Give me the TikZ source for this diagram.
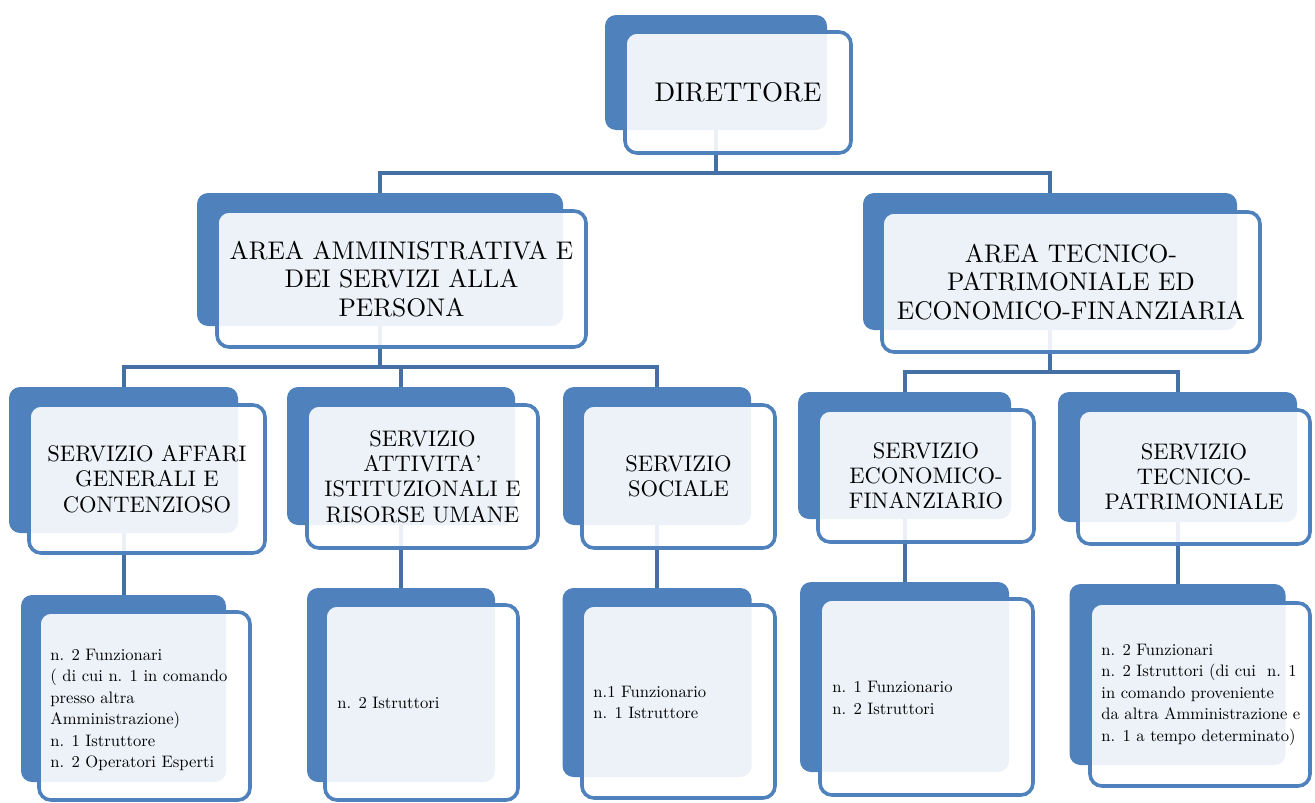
\documentclass[tikz,border=0pt]{standalone}
\usepackage{fontspec}
\setmainfont{lmroman10-regular}[Extension=.otf]
\definecolor{bk}{HTML}{4F81BD}
\definecolor{cn}{HTML}{4470A6}
\tikzset{
 backbox/.style={rectangle, rounded corners=11pt, fill=bk, draw=none, inner sep=0pt},
 frontbox/.style={rectangle, rounded corners=12pt, draw=bk, line width=3.6pt, fill=white, fill opacity=0.9, draw opacity=1, text opacity=1, inner sep=0pt, align=center},
 conn/.style={draw=cn, line width=4pt},
 ftop/.style={font=\fontsize{27}{32}\selectfont},
 farea/.style={font=\fontsize{25.5}{28.5}\selectfont},
 fserv/.style={font=\fontsize{22.5}{25.3}\selectfont},
 fstaff/.style={anchor=west, align=left, inner sep=0pt, font=\fontsize{16.6}{21.5}\selectfont},
}
\begin{document}
\begin{tikzpicture}[x=1pt,y=-1pt]
\useasboundingbox[fill=white] (0,0) rectangle (1315,803);
% back boxes
\node[backbox, minimum width=222pt, minimum height=115pt] (dirb) at (716,72.5) {};
\node[backbox, minimum width=366pt, minimum height=133pt] (aab) at (380,259.5) {};
\node[backbox, minimum width=374pt, minimum height=137pt] (atb) at (1050,261.5) {};
\node[backbox, minimum width=229pt, minimum height=146pt] (sagb) at (123.5,460) {};
\node[backbox, minimum width=228pt, minimum height=138pt] (saib) at (401,456) {};
\node[backbox, minimum width=188pt, minimum height=138pt] (ssb) at (657,456) {};
\node[backbox, minimum width=213pt, minimum height=127pt] (sefb) at (904.5,455.5) {};
\node[backbox, minimum width=239pt, minimum height=130pt] (stpb) at (1177.5,457) {};
\node[backbox, minimum width=205pt, minimum height=187pt] (b1b) at (123.5,688.5) {};
\node[backbox, minimum width=188pt, minimum height=194pt] (b2b) at (401,685) {};
\node[backbox, minimum width=189pt, minimum height=189pt] (b3b) at (657,682.5) {};
\node[backbox, minimum width=209pt, minimum height=190pt] (b4b) at (904.5,677) {};
\node[backbox, minimum width=216pt, minimum height=181pt] (b5b) at (1177.5,674.5) {};
% connectors
\draw[conn] (dirb.south) |- ([yshift=20pt]aab.north) -- (aab.north);
\draw[conn] (dirb.south) |- ([yshift=20pt]atb.north) -- (atb.north);
\draw[conn] (aab.south) |- ([yshift=20pt]sagb.north) -- (sagb.north);
\draw[conn] (aab.south) |- ([yshift=20pt]saib.north) -- (saib.north);
\draw[conn] (aab.south) |- ([yshift=20pt]ssb.north) -- (ssb.north);
\draw[conn] (atb.south) |- ([yshift=20pt]sefb.north) -- (sefb.north);
\draw[conn] (atb.south) |- ([yshift=20pt]stpb.north) -- (stpb.north);
\draw[conn] (sagb.south) -- (b1b.north);
\draw[conn] (saib.south) -- (b2b.north);
\draw[conn] (ssb.south) -- (b3b.north);
\draw[conn] (sefb.south) -- (b4b.north);
\draw[conn] (stpb.south) -- (b5b.north);
% front boxes
\node[frontbox, ftop, minimum width=226pt, minimum height=121pt] (dir) at (738,92.5) {DIRETTORE};
\node[frontbox, farea, minimum width=369pt, minimum height=136pt] (aa) at (401.5,279) {AREA AMMINISTRATIVA E\\DEI SERVIZI ALLA\\PERSONA};
\node[frontbox, farea, minimum width=378pt, minimum height=140pt] (at) at (1071,282) {AREA TECNICO-\\PATRIMONIALE ED\\ECONOMICO-FINANZIARIA};
\node[frontbox, fserv, minimum width=236pt, minimum height=148pt] (sag) at (147,479) {SERVIZIO AFFARI\\GENERALI E\\CONTENZIOSO};
\node[frontbox, fserv, minimum width=231pt, minimum height=143pt] (sai) at (422.5,476.5) {SERVIZIO\\ATTIVITA'\\ISTITUZIONALI E\\RISORSE UMANE};
\node[frontbox, fserv, minimum width=193pt, minimum height=143pt] (ss) at (678.5,476.5) {SERVIZIO\\SOCIALE};
\node[frontbox, fserv, minimum width=216pt, minimum height=132pt] (sef) at (926,476) {SERVIZIO\\ECONOMICO-\\FINANZIARIO};
\node[frontbox, fserv, minimum width=232pt, minimum height=134pt] (stp) at (1194,477) {SERVIZIO\\TECNICO-\\PATRIMONIALE};
\node[frontbox, minimum width=211pt, minimum height=188pt] (b1) at (144.5,706) {};
\node[frontbox, minimum width=193pt, minimum height=195pt] (b2) at (421.5,702.5) {};
\node[frontbox, minimum width=193pt, minimum height=193pt] (b3) at (678.5,701.5) {};
\node[frontbox, minimum width=213pt, minimum height=196pt] (b4) at (926.5,697) {};
\node[frontbox, minimum width=220pt, minimum height=183pt] (b5) at (1200,694.5) {};
% staff texts
\node[fstaff] (t1) at ([xshift=13pt,yshift=-4pt]b1.west) {n. 2 Funzionari\\( di cui n. 1 in comando\\presso altra\\Amministrazione)\\n. 1 Istruttore\\n. 2 Operatori Esperti};
\node[fstaff] (t2) at ([xshift=14pt]b2.west) {n. 2 Istruttori};
\node[fstaff] (t3) at ([xshift=13pt,yshift=-1pt]b3.west) {n.1 Funzionario\\n. 1 Istruttore};
\node[fstaff] (t4) at ([xshift=14pt,yshift=-1pt]b4.west) {n. 1 Funzionario\\n. 2 Istruttori};
\node[fstaff] (t5) at ([xshift=13pt]b5.west) {n. 2 Funzionari\\n. 2 Istruttori (di cui\ \ n. 1\\in comando proveniente\\da altra Amministrazione e\\n. 1 a tempo determinato)};
\end{tikzpicture}
\end{document}
